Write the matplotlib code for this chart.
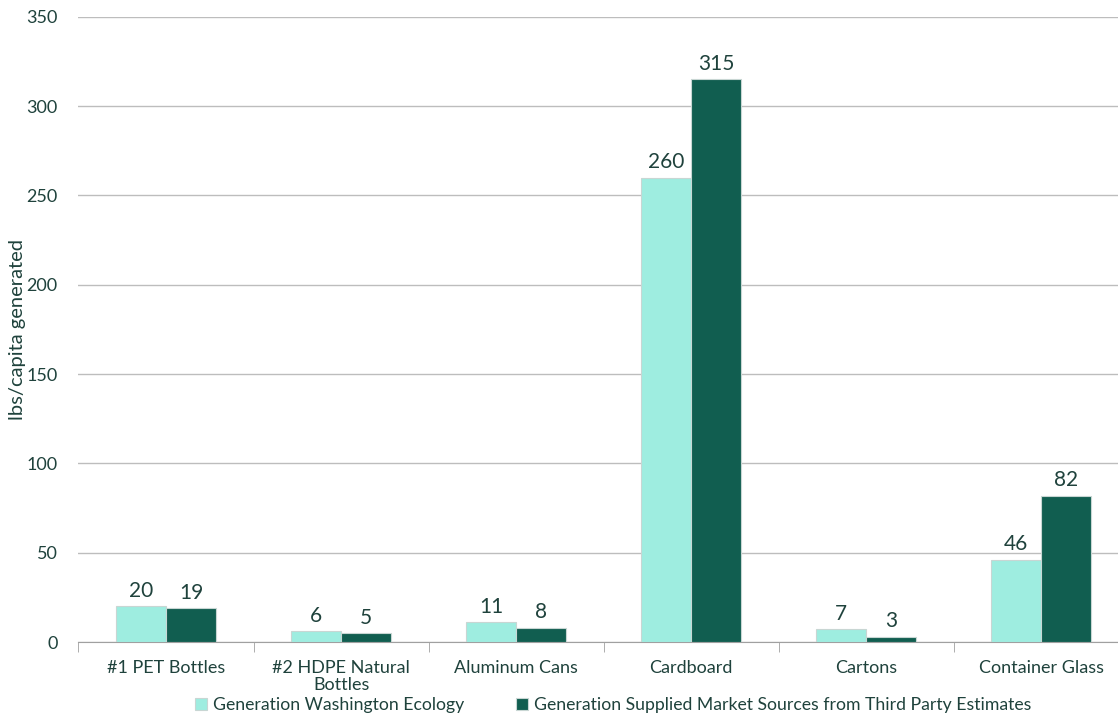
import matplotlib.pyplot as plt
import numpy as np

categories = ["#1 PET Bottles", "#2 HDPE Natural\nBottles", "Aluminum Cans",
              "Cardboard", "Cartons", "Container Glass"]
ecology = [20, 6, 11, 260, 7, 46]
market = [19, 5, 8, 315, 3, 82]
series_names = ["Generation Washington Ecology",
                "Generation Supplied Market Sources from Third Party Estimates"]

light = "#9EEDE0"
dark = "#115E50"
text_col = "#1F423C"

plt.rcParams['font.family'] = ['Lato', 'DejaVu Sans']

fig = plt.figure(figsize=(11.18, 7.17), dpi=100)
ax = fig.add_axes([0.0702, 0.1046, 0.9396, 0.872])

x = np.arange(len(categories))
w = 0.286
b1 = ax.bar(x - w / 2, ecology, w, color=light, edgecolor="#C8D6D3", linewidth=0.8,
            label=series_names[0], zorder=3)
b2 = ax.bar(x + w / 2, market, w, color=dark, edgecolor="#C8D6D3", linewidth=0.8,
            label=series_names[1], zorder=3)

for bars in (b1, b2):
    ax.bar_label(bars, padding=4, fontsize=15, color=text_col)

ax.set_xlim(-0.5, len(categories) - 0.5)
ax.set_ylim(0, 350)
ax.set_yticks(np.arange(0, 351, 50))
ax.yaxis.grid(True, color="#BDBDBD", linewidth=1, zorder=0)
ax.set_axisbelow(True)

ax.set_xticks(x)
ax.set_xticklabels(categories, fontsize=13, color=text_col, linespacing=1.05)
ax.set_xticks(np.arange(-0.5, len(categories)), minor=True)
ax.tick_params(axis='x', which='major', length=0, pad=13)
ax.tick_params(axis='x', which='minor', length=7, color="#A0A0A0", direction='out')
ax.tick_params(axis='y', length=0, pad=15, labelsize=13, labelcolor=text_col)

for s in ['top', 'right', 'left']:
    ax.spines[s].set_visible(False)
ax.spines['bottom'].set_color("#A0A0A0")

ax.set_ylabel("lbs/capita generated", fontsize=14.5, color=text_col, labelpad=0)

ax.legend(loc='center', bbox_to_anchor=(0.509, -0.101), ncol=2, frameon=False,
          fontsize=12.7, handlelength=0.7, handleheight=0.7, handletextpad=0.35,
          columnspacing=2.9, labelcolor=text_col)

fig.savefig("out.png", dpi=100)
